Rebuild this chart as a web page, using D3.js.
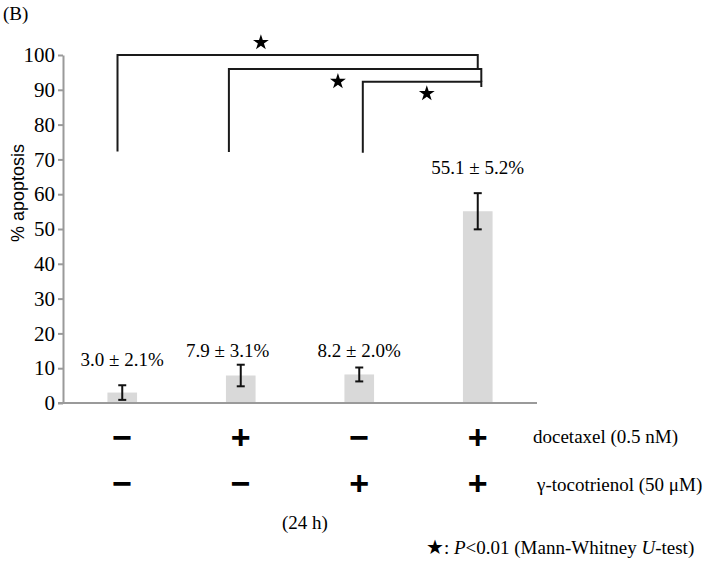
<!DOCTYPE html>
<html>
<head>
<meta charset="utf-8">
<script src="https://cdn.jsdelivr.net/npm/d3@7"></script>
<style>
  body { margin: 0; background: #fff; }
  text { font-family: "Liberation Serif", "Times New Roman", serif; fill: #000; }
</style>
</head>
<body>
<svg id="chart" width="706" height="566"></svg>
<script>
// data
var groups = ["g1", "g2", "g3", "g4"];
var means = [3.0, 7.9, 8.2, 55.1];
var sds = [2.1, 3.1, 2.0, 5.2];
var labels = ["3.0 \u00b1 2.1%", "7.9 \u00b1 3.1%", "8.2 \u00b1 2.0%", "55.1 \u00b1 5.2%"];
var docetaxel = ["\u2212", "+", "\u2212", "+"];
var tocotrienol = ["\u2212", "\u2212", "+", "+"];
var yTicks = [0, 10, 20, 30, 40, 50, 60, 70, 80, 90, 100];

// label anchors (group index, value) and significance brackets
var labelAt = [[0, 12.4], [0.89, 15.2], [2, 15.2], [3, 67.8]];
var brackets = [
  {from: -0.04, to: 3.0, level: 100, leftEnd: 72.3, rightEnd: 96},
  {from: 0.9, to: 3.03, level: 96, leftEnd: 72.1, rightEnd: 92.3},
  {from: 2.03, to: 3.03, level: 92.3, leftEnd: 71.9, rightEnd: 90.8}
];
var stars = [[1.17, 103.6], [1.82, 92.4], [2.57, 88.9]];

var svg = d3.select("#chart");

var x = d3.scaleBand().domain(groups).range([63, 537])
  .paddingInner(0.75).paddingOuter(0.375);
var y = d3.scaleLinear().domain([0, 100]).range([403, 55]);
// position along the groups (0 = first bar centre)
var xi = d3.scaleLinear().domain([0, 3])
  .range([x(groups[0]) + x.bandwidth() / 2, x(groups[3]) + x.bandwidth() / 2]);

//bars
svg.selectAll(".bar")
  .data(means)
  .enter().append("rect")
  .attr("x", function(d, i) { return x(groups[i]); })
  .attr("y", function(d) { return y(d); })
  .attr("width", x.bandwidth())
  .attr("height", function(d) { return y(0) - y(d); })
  .attr("fill", "#d9d9d9");

//y axis
var yAxis = svg.append("g")
  .attr("transform", "translate(63,0)")
  .call(d3.axisLeft(y).tickValues(yTicks).tickSize(5).tickSizeOuter(0).tickPadding(3));
yAxis.select(".domain").attr("stroke", "#9a9a9a").attr("stroke-width", 2);
yAxis.selectAll(".tick line").attr("stroke", "#9a9a9a").attr("stroke-width", 2);
yAxis.selectAll(".tick text")
  .style("font-family", "'Liberation Serif', serif")
  .style("font-size", "21px")
  .attr("fill", "#000");

//x axis line
svg.append("line")
  .attr("x1", 58).attr("x2", 537)
  .attr("y1", y(0)).attr("y2", y(0))
  .attr("stroke", "#9a9a9a").attr("stroke-width", 2);

//error bars
var err = svg.append("g").attr("stroke", "#111").attr("stroke-width", 2);
means.forEach(function(m, i) {
  var cx = x(groups[i]) + x.bandwidth() / 2;
  err.append("line").attr("x1", cx).attr("x2", cx)
    .attr("y1", y(m - sds[i])).attr("y2", y(m + sds[i]));
  [m - sds[i], m + sds[i]].forEach(function(v) {
    err.append("line").attr("x1", cx - 4).attr("x2", cx + 4)
      .attr("y1", y(v)).attr("y2", y(v));
  });
});

//value labels
svg.selectAll(".lab")
  .data(labels)
  .enter().append("text")
  .attr("x", function(d, i) { return xi(labelAt[i][0]); })
  .attr("y", function(d, i) { return y(labelAt[i][1]); })
  .attr("dy", "0.35em")
  .attr("text-anchor", "middle")
  .attr("font-size", 19)
  .text(function(d) { return d; });

//brackets
svg.selectAll(".bracket")
  .data(brackets)
  .enter().append("path")
  .attr("fill", "none")
  .attr("stroke", "#1a1a1a")
  .attr("stroke-width", 2)
  .attr("d", function(b) {
    return "M" + xi(b.from) + "," + y(b.leftEnd) +
      "V" + y(b.level) + "H" + xi(b.to) + "V" + y(b.rightEnd);
  });

var star = d3.symbol().type(d3.symbolStar).size(78);
svg.selectAll(".star")
  .data(stars)
  .enter().append("path")
  .attr("d", star)
  .attr("fill", "#000")
  .attr("transform", function(d) { return "translate(" + xi(d[0]) + "," + y(d[1]) + ")"; });

//y label
svg.append("text")
  .attr("transform", "translate(24,193) rotate(-90)")
  .attr("text-anchor", "middle")
  .style("font-family", "Liberation Sans, Arial, sans-serif")
  .attr("font-size", 18)
  .text("% apoptosis");

svg.append("text")
  .attr("x", 3).attr("y", 20)
  .attr("font-size", 19)
  .text("(B)");

//treatment rows
function row(signs, cy) {
  svg.selectAll(null)
    .data(signs)
    .enter().append("text")
    .attr("x", function(d, i) { return x(groups[i]) + x.bandwidth() / 2; })
    .attr("y", cy + 11)
    .attr("text-anchor", "middle")
    .style("font-family", "Liberation Sans, Arial, sans-serif")
    .style("font-weight", "bold")
    .attr("font-size", 34)
    .text(function(d) { return d; });
}
row(docetaxel, 437.7);
row(tocotrienol, 484);

svg.append("text").attr("x", 533).attr("y", 443)
  .attr("font-size", 19).text("docetaxel (0.5 nM)");
svg.append("text").attr("x", 537).attr("y", 491)
  .attr("font-size", 19).text("\u03b3-tocotrienol (50 \u03bcM)");
svg.append("text").attr("x", 305).attr("y", 529)
  .attr("text-anchor", "middle")
  .attr("font-size", 19).text("(24 h)");

var note = svg.append("text").attr("x", 426).attr("y", 554).attr("font-size", 19);
note.append("tspan").style("font-family", "DejaVu Sans, sans-serif").attr("font-size", 20).text("\u2605");
note.append("tspan").text(": ");
note.append("tspan").attr("font-style", "italic").text("P");
note.append("tspan").text("<0.01 (Mann-Whitney ");
note.append("tspan").attr("font-style", "italic").text("U");
note.append("tspan").text("-test)");
</script>
</body>
</html>
